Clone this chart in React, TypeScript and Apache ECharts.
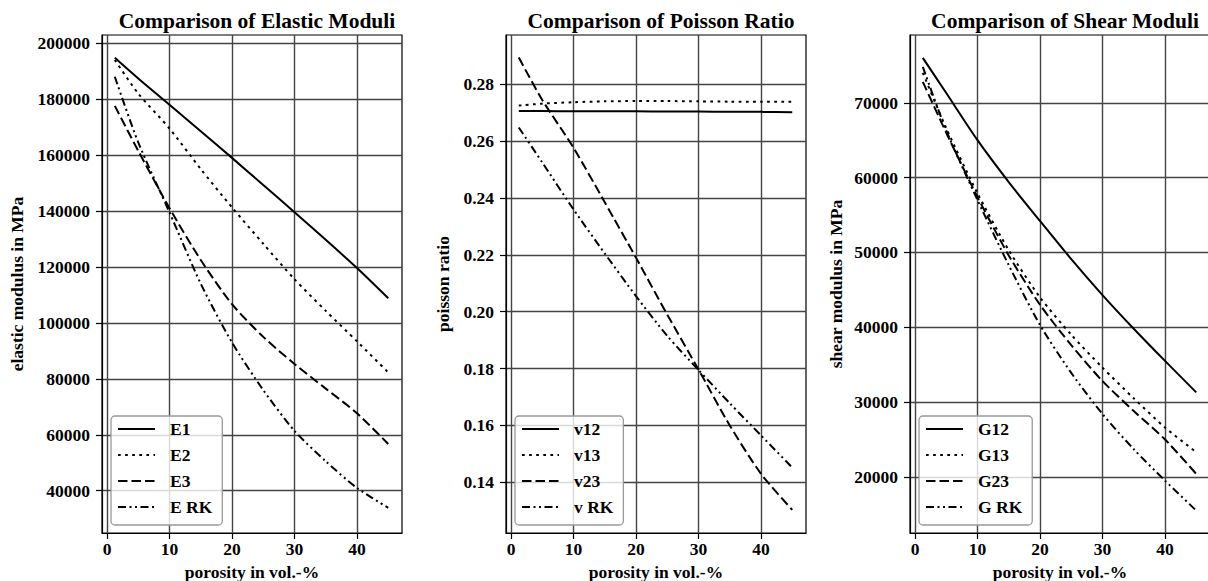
import React, { useEffect, useRef } from "react";
import * as echarts from "echarts";

const FONT = "'Liberation Serif', 'Times New Roman', serif";

// porosity values (vol.-%)
const porosity = [1.25, 5, 10, 15, 20, 25, 30, 35, 40, 45];

// Elastic moduli (MPa)
const E1 = [194800, 187400, 178000, 168500, 159000, 149300, 139600, 129700, 119600, 108800];
const E2 = [194000, 182000, 169500, 155000, 141300, 128300, 115600, 104300, 93400, 82300];
const E3 = [177600, 161500, 141000, 122500, 106700, 95000, 85300, 76500, 67700, 56700];
const ERK = [188000, 164500, 139500, 114000, 93000, 76000, 61400, 50500, 41000, 33900];

// Poisson ratios
const v12 = [0.2706, 0.2706, 0.2705, 0.2705, 0.2705, 0.2704, 0.2704, 0.2703, 0.2703, 0.2702];
const v13 = [0.2725, 0.2732, 0.2737, 0.274, 0.2741, 0.2741, 0.274, 0.2739, 0.2739, 0.2739];
const v23 = [0.2894, 0.2745, 0.2577, 0.2385, 0.219, 0.199, 0.1797, 0.16, 0.143, 0.1303];
const vRK = [0.2648, 0.2525, 0.236, 0.2205, 0.2055, 0.1915, 0.1795, 0.1678, 0.1565, 0.1452];

// Shear moduli (MPa)
const G12 = [76000, 71300, 65000, 59400, 54200, 49100, 44300, 39800, 35500, 31300];
const G13 = [74000, 66600, 57900, 50300, 44000, 39000, 34600, 30500, 26600, 23300];
const G23 = [72800, 66000, 57400, 49600, 43000, 37600, 32800, 28800, 25000, 20400];
const GRK = [74800, 66300, 57000, 48300, 40300, 33900, 28400, 23700, 19500, 15500];

const xTicks = [0, 10, 20, 30, 40];
const yTicksE = [40000, 60000, 80000, 100000, 120000, 140000, 160000, 180000, 200000];
const yTicksV = [0.14, 0.16, 0.18, 0.2, 0.22, 0.24, 0.26, 0.28];
const yTicksG = [20000, 30000, 40000, 50000, 60000, 70000];

const titles = ["Comparison of Elastic Moduli", "Comparison of Poisson Ratio", "Comparison of Shear Moduli"];
const yNames = ["elastic modulus in MPa", "poisson ratio", "shear modulus in MPa"];
const xName = "porosity in vol.-%";

const panels = [
  { names: ["E1", "E2", "E3", "E RK"], data: [E1, E2, E3, ERK], ticks: yTicksE, min: 24880, max: 202930, dec: 0 },
  { names: ["v12", "v13", "v23", "v RK"], data: [v12, v13, v23, vRK], ticks: yTicksV, min: 0.12217, max: 0.29734, dec: 2 },
  { names: ["G12", "G13", "G23", "G RK"], data: [G12, G13, G23, GRK], ticks: yTicksG, min: 12500, max: 79060, dec: 0 },
];

const lefts = [102, 506, 910];
const nameGaps = [76, 54, 65];
const dashes: any[] = ["solid", [2.7, 4.4], [9.5, 4], [8, 3.5, 2, 3.5, 2, 3.5]];

export default function App() {
  const ref = useRef<HTMLDivElement>(null);
  useEffect(() => {
    if (!ref.current) return;
    const chart = echarts.init(ref.current, undefined, { renderer: "svg" });
    const txt = { fontFamily: FONT, fontWeight: "bold" as const, color: "#000", fontSize: 17.5 };
    const grid: any[] = [];
    const xAxis: any[] = [];
    const yAxis: any[] = [];
    const series: any[] = [];
    const legend: any[] = [];
    const title: any[] = [];
    panels.forEach((p, i) => {
      const left = lefts[i];
      grid.push({
        left,
        top: 35,
        width: 300,
        height: 498,
        show: true,
        borderColor: "#000",
        borderWidth: 1.2,
        backgroundColor: "transparent",
        containLabel: false,
        outerBoundsMode: "none",
      });
      title.push({
        text: titles[i],
        left: left + 150,
        top: 5,
        textAlign: "center",
        textStyle: { fontFamily: FONT, fontWeight: "bold", fontSize: 21.5, color: "#000" },
      });
      xAxis.push({
        type: "value",
        gridIndex: i,
        min: -0.8,
        max: 47.2,
        name: xName,
        nameLocation: "middle",
        nameGap: 29,
        nameTextStyle: txt,
        axisLine: { show: true, onZero: false, lineStyle: { color: "#000", width: 1.2 } },
        axisTick: { show: true, length: 6, customValues: xTicks, lineStyle: { color: "#000", width: 1.2 } },
        axisLabel: { customValues: xTicks, margin: 7, ...txt },
        splitLine: { show: true, lineStyle: { color: "#444", width: 1.4 } },
      });
      yAxis.push({
        type: "value",
        gridIndex: i,
        min: p.min,
        max: p.max,
        name: yNames[i],
        nameLocation: "middle",
        nameGap: nameGaps[i],
        nameTextStyle: txt,
        axisLine: { show: true, onZero: false, lineStyle: { color: "#000", width: 1.2 } },
        axisTick: { show: true, length: 6, customValues: p.ticks, lineStyle: { color: "#000", width: 1.2 } },
        axisLabel: {
          customValues: p.ticks,
          margin: 12,
          formatter: (v: number) => (p.dec ? v.toFixed(p.dec) : String(Math.round(v))),
          ...txt,
        },
        splitLine: { show: true, lineStyle: { color: "#444", width: 1.4 } },
      });
      p.names.forEach((n, k) => {
        series.push({
          type: "line",
          name: n,
          xAxisIndex: i,
          yAxisIndex: i,
          data: porosity.map((x, j) => [x, p.data[k][j]]),
          showSymbol: false,
          symbol: "none",
          smooth: 0.25,
          itemStyle: { color: "#000" },
          lineStyle: { color: "#000", width: 2, type: dashes[k] },
          z: 3,
        });
      });
      legend.push({
        data: p.names,
        orient: "vertical",
        left: left + 9,
        top: 416,
        padding: [3, 10, 8, 6],
        itemGap: 6,
        itemWidth: 37,
        itemHeight: 14,
        backgroundColor: "rgba(255,255,255,0.8)",
        borderColor: "#999",
        borderWidth: 1.3,
        borderRadius: 4,
        itemStyle: { color: "rgba(0,0,0,0)", borderColor: "rgba(0,0,0,0)", borderWidth: 0 },
        textStyle: { ...txt, lineHeight: 20, padding: [0, 0, 0, 10] },
        selectedMode: false,
        z: 10,
      });
    });
    chart.setOption({
      animation: false,
      backgroundColor: "#fff",
      title,
      grid,
      xAxis,
      yAxis,
      legend,
      series,
    });
    return () => chart.dispose();
  }, []);
  return <div ref={ref} style={{ position: "absolute", left: 0, top: 0, width: 1208, height: 581 }} />;
}
